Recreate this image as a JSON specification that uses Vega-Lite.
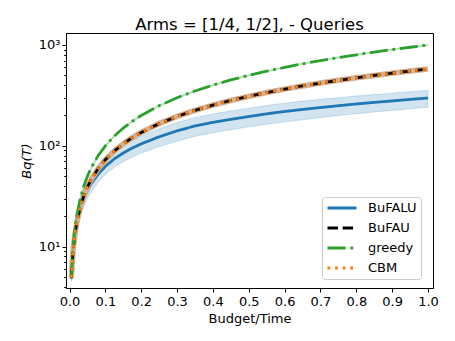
{
  "$schema": "https://vega.github.io/schema/vega-lite/v6.json",
  "width": 367,
  "height": 255,
  "autosize": {"type": "none"},
  "padding": {"left": 66, "top": 33, "right": 22, "bottom": 53},
  "background": "white",
  "title": {"text": "Arms = [1/4, 1/2],  - Queries", "font": "DejaVu Sans", "fontSize": 16.5, "fontWeight": "normal", "color": "#000000", "anchor": "middle", "baseline": "alphabetic", "offset": -13, "frame": "group"},
  "config": {
    "font": "DejaVu Sans",
    "view": {"stroke": "#000000", "strokeWidth": 1},
    "axis": {"grid": false, "domainColor": "#000000", "domainWidth": 1, "tickColor": "#000000", "tickWidth": 1, "labelColor": "#000000", "labelFontSize": 13, "labelFont": "DejaVu Sans", "titleFont": "DejaVu Sans", "titleFontSize": 13, "titleFontWeight": "normal", "titleColor": "#000000"},
    "legend": {"orient": "none", "legendX": 256, "legendY": 164, "padding": 4, "rowPadding": 6, "clipHeight": 14, "symbolType": "stroke", "symbolSize": 841, "symbolStrokeWidth": 2.8, "labelFontSize": 13, "labelFont": "DejaVu Sans", "labelColor": "#000000", "labelOffset": 10, "strokeColor": "#cccccc", "fillColor": "rgba(255,255,255,0.8)", "cornerRadius": 3}
  },
  "data": {"values": [
    {"x": 0.005, "lo": 4.5, "hi": 5.1, "BuFALU": 4.8, "BuFAU": 4.9, "greedy": 5, "CBM": 4.9},
    {"x": 0.01, "lo": 8.1, "hi": 9.7, "BuFALU": 8.9, "BuFAU": 9.2, "greedy": 10, "CBM": 9.2},
    {"x": 0.015, "lo": 11.4, "hi": 14.0, "BuFALU": 12.7, "BuFAU": 13.2, "greedy": 15, "CBM": 13.2},
    {"x": 0.02, "lo": 14.3, "hi": 18.1, "BuFALU": 16.2, "BuFAU": 17.1, "greedy": 20, "CBM": 17.1},
    {"x": 0.03, "lo": 19.9, "hi": 26.3, "BuFALU": 23.1, "BuFAU": 24.6, "greedy": 30, "CBM": 24.6},
    {"x": 0.04, "lo": 25.2, "hi": 34.2, "BuFALU": 29.7, "BuFAU": 31.9, "greedy": 40, "CBM": 31.9},
    {"x": 0.05, "lo": 30.2, "hi": 41.6, "BuFALU": 35.9, "BuFAU": 39.0, "greedy": 50, "CBM": 39.0},
    {"x": 0.06, "lo": 35.0, "hi": 48.8, "BuFALU": 41.9, "BuFAU": 46.0, "greedy": 60, "CBM": 46.0},
    {"x": 0.08, "lo": 43.5, "hi": 61.3, "BuFALU": 52.4, "BuFAU": 59.5, "greedy": 80, "CBM": 59.5},
    {"x": 0.1, "lo": 52.0, "hi": 73.2, "BuFALU": 62.6, "BuFAU": 72.8, "greedy": 100, "CBM": 72.8},
    {"x": 0.125, "lo": 61.2, "hi": 87.2, "BuFALU": 74.2, "BuFAU": 88.9, "greedy": 125, "CBM": 88.9},
    {"x": 0.15, "lo": 69.6, "hi": 100.2, "BuFALU": 84.9, "BuFAU": 104.8, "greedy": 150, "CBM": 104.8},
    {"x": 0.175, "lo": 77.5, "hi": 112.7, "BuFALU": 95.1, "BuFAU": 120.4, "greedy": 175, "CBM": 120.4},
    {"x": 0.2, "lo": 84.7, "hi": 124.5, "BuFALU": 104.6, "BuFAU": 135.8, "greedy": 200, "CBM": 135.8},
    {"x": 0.25, "lo": 98.2, "hi": 147.4, "BuFALU": 122.8, "BuFAU": 166.0, "greedy": 250, "CBM": 166.0},
    {"x": 0.3, "lo": 111.2, "hi": 170.4, "BuFALU": 140.8, "BuFAU": 195.6, "greedy": 300, "CBM": 195.6},
    {"x": 0.35, "lo": 124.3, "hi": 190.3, "BuFALU": 157.3, "BuFAU": 224.7, "greedy": 350, "CBM": 224.7},
    {"x": 0.4, "lo": 135.1, "hi": 206.9, "BuFALU": 171.0, "BuFAU": 253.4, "greedy": 400, "CBM": 253.4},
    {"x": 0.45, "lo": 144.6, "hi": 221.6, "BuFALU": 183.1, "BuFAU": 281.7, "greedy": 450, "CBM": 281.7},
    {"x": 0.5, "lo": 154.2, "hi": 236.2, "BuFALU": 195.2, "BuFAU": 309.8, "greedy": 500, "CBM": 309.8},
    {"x": 0.55, "lo": 164.0, "hi": 251.2, "BuFALU": 207.6, "BuFAU": 337.5, "greedy": 550, "CBM": 337.5},
    {"x": 0.6, "lo": 173.0, "hi": 265.0, "BuFALU": 219.0, "BuFAU": 365.0, "greedy": 600, "CBM": 365.0},
    {"x": 0.65, "lo": 181.2, "hi": 277.6, "BuFALU": 229.4, "BuFAU": 392.2, "greedy": 650, "CBM": 392.2},
    {"x": 0.7, "lo": 190.6, "hi": 289.0, "BuFALU": 239.8, "BuFAU": 419.3, "greedy": 700, "CBM": 419.3},
    {"x": 0.75, "lo": 199.9, "hi": 299.9, "BuFALU": 249.9, "BuFAU": 446.2, "greedy": 750, "CBM": 446.2},
    {"x": 0.8, "lo": 208.1, "hi": 312.1, "BuFALU": 260.1, "BuFAU": 472.9, "greedy": 800, "CBM": 472.9},
    {"x": 0.85, "lo": 217.0, "hi": 322.2, "BuFALU": 269.6, "BuFAU": 499.3, "greedy": 850, "CBM": 499.3},
    {"x": 0.9, "lo": 224.3, "hi": 332.9, "BuFALU": 278.6, "BuFAU": 525.7, "greedy": 900, "CBM": 525.7},
    {"x": 0.95, "lo": 233.8, "hi": 343.4, "BuFALU": 288.6, "BuFAU": 551.9, "greedy": 950, "CBM": 551.9},
    {"x": 1.0, "lo": 241.4, "hi": 354.6, "BuFALU": 298.0, "BuFAU": 578.0, "greedy": 1000, "CBM": 578.0}
  ]},
  "encoding": {
    "x": {"field": "x", "type": "quantitative", "scale": {"domain": [-0.0098, 1.0139], "nice": false, "zero": false},
      "axis": {"title": "Budget/Time", "values": [0, 0.1, 0.2, 0.3, 0.4, 0.5, 0.6, 0.7, 0.8, 0.9, 1.0], "format": ".1f", "tickSize": 4, "labelPadding": 3, "titlePadding": 4, "labelOverlap": false, "labelFlush": false}}
  },
  "layer": [
    {
      "mark": {"type": "area", "fill": "#1f77b4", "fillOpacity": 0.2, "stroke": "#1f77b4", "strokeOpacity": 0.2, "strokeWidth": 1, "clip": true},
      "encoding": {
        "y": {"field": "lo", "type": "quantitative", "scale": {"type": "log", "domain": [3.89, 1315], "nice": false},
          "axis": {"title": "Bq(T)", "titleFontStyle": "italic", "titlePadding": 5,
            "values": [4, 5, 6, 7, 8, 9, 10, 20, 30, 40, 50, 60, 70, 80, 90, 100, 200, 300, 400, 500, 600, 700, 800, 900, 1000],
            "labelExpr": "datum.value == 10 ? '10¹' : datum.value == 100 ? '10²' : datum.value == 1000 ? '10³' : ''",
            "tickSize": {"condition": {"test": "datum.value == 10 || datum.value == 100 || datum.value == 1000", "value": 4}, "value": 2.3},
            "labelPadding": 2, "labelOverlap": false, "labelFlush": false}},
        "y2": {"field": "hi"}
      }
    },
    {
      "transform": [{"fold": ["BuFALU", "BuFAU", "greedy", "CBM"], "as": ["series", "value"]}, {"filter": "datum.series == 'BuFALU'"}],
      "mark": {"type": "line", "strokeWidth": 2.8, "clip": true},
      "encoding": {
        "y": {"field": "value", "type": "quantitative", "axis": {"title": "Bq(T)"}},
        "color": {"field": "series", "type": "nominal", "scale": {"domain": ["BuFALU", "BuFAU", "greedy", "CBM"], "range": ["#1f77b4", "#000000", "#2ca02c", "#ff7f0e"]}, "legend": {"title": null}},
        "strokeDash": {"field": "series", "type": "nominal", "scale": {"domain": ["BuFALU", "BuFAU", "greedy", "CBM"], "range": [[1, 0], [10.5, 4.6], [18.2, 4.6, 2.85, 4.6], [2.85, 4.7]]}, "legend": {"title": null}}
      }
    },
    {
      "mark": {"type": "line", "stroke": "#d6b090", "strokeWidth": 5.5, "clip": true},
      "encoding": {"y": {"field": "BuFAU", "type": "quantitative", "axis": {"title": "Bq(T)"}}}
    },
    {
      "transform": [{"fold": ["BuFALU", "BuFAU", "greedy", "CBM"], "as": ["series", "value"]}, {"filter": "datum.series == 'BuFAU'"}],
      "mark": {"type": "line", "strokeWidth": 2.8, "clip": true},
      "encoding": {
        "y": {"field": "value", "type": "quantitative", "axis": {"title": "Bq(T)"}},
        "color": {"field": "series", "type": "nominal", "legend": {"title": null}},
        "strokeDash": {"field": "series", "type": "nominal", "legend": {"title": null}}
      }
    },
    {
      "mark": {"type": "line", "stroke": "#2ca02c", "strokeOpacity": 0.35, "strokeWidth": 2, "clip": true},
      "encoding": {"y": {"field": "greedy", "type": "quantitative", "axis": {"title": "Bq(T)"}}}
    },
    {
      "transform": [{"fold": ["BuFALU", "BuFAU", "greedy", "CBM"], "as": ["series", "value"]}, {"filter": "datum.series == 'greedy'"}],
      "mark": {"type": "line", "strokeWidth": 2.8, "clip": true},
      "encoding": {
        "y": {"field": "value", "type": "quantitative", "axis": {"title": "Bq(T)"}},
        "color": {"field": "series", "type": "nominal", "legend": {"title": null}},
        "strokeDash": {"field": "series", "type": "nominal", "legend": {"title": null}}
      }
    },
    {
      "transform": [{"fold": ["BuFALU", "BuFAU", "greedy", "CBM"], "as": ["series", "value"]}, {"filter": "datum.series == 'CBM'"}],
      "mark": {"type": "line", "strokeWidth": 2.8, "clip": true},
      "encoding": {
        "y": {"field": "value", "type": "quantitative", "axis": {"title": "Bq(T)"}},
        "color": {"field": "series", "type": "nominal", "legend": {"title": null}},
        "strokeDash": {"field": "series", "type": "nominal", "legend": {"title": null}}
      }
    }
  ]
}
